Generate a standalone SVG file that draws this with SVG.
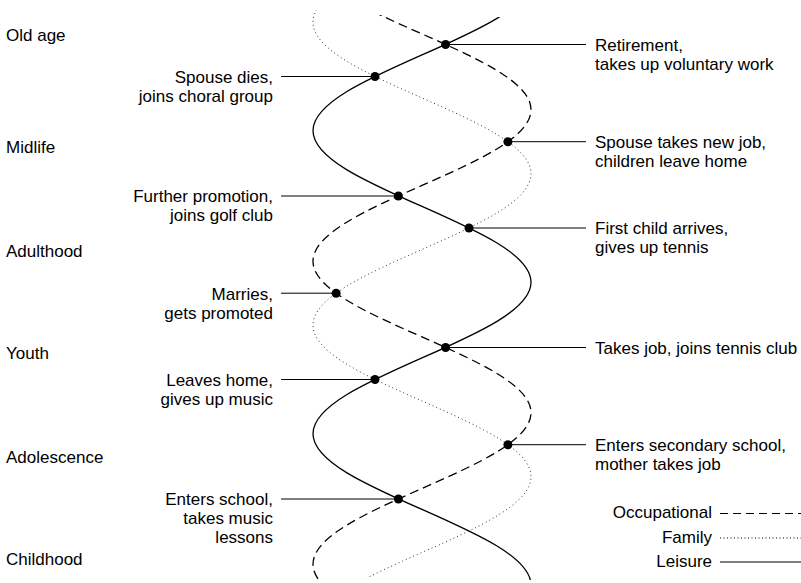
<svg xmlns="http://www.w3.org/2000/svg" width="801" height="583" viewBox="0 0 801 583">
<style>
text{font-family:"Liberation Sans",Arial,sans-serif;font-size:17px;fill:#000}
.end{text-anchor:end}
.curve{fill:none;stroke:#000;stroke-width:1.3}
.occ{stroke-dasharray:9 5}
.fam{stroke-dasharray:1 3;stroke-width:1;stroke:#333}
.lead{stroke:#000;stroke-width:1;fill:none}
.dot{fill:#000}
</style>
<defs>
<clipPath id="cs"><rect x="0" y="17" width="801" height="563"/></clipPath>
<clipPath id="cd"><rect x="0" y="15" width="801" height="565"/></clipPath>
<clipPath id="cf"><rect x="0" y="10" width="801" height="567"/></clipPath>
</defs>
<rect width="801" height="583" fill="#fff"/>
<g id="ages">
<text x="6" y="41">Old age</text>
<text x="6" y="153">Midlife</text>
<text x="6" y="257">Adulthood</text>
<text x="6" y="359">Youth</text>
<text x="6" y="463">Adolescence</text>
<text x="6" y="565">Childhood</text>
</g>
<g id="connectors">
<path id="leisure" class="curve" clip-path="url(#cs)" d="M531 -20.8 C531 6.62 477.84 30.25 422 54.95 C366.16 79.65 313 103.28 313 130.7 C313 158.12 366.16 181.75 422 206.45 C477.84 231.15 531 254.78 531 282.2 C531 309.62 477.84 333.25 422 357.95 C366.16 382.65 313 406.28 313 433.7 C313 461.12 366.16 484.75 422 509.45 C477.84 534.15 531 557.78 531 585.2"/>
<path id="occupational" class="curve occ" clip-path="url(#cd)" d="M313 -41.8 C313 -14.38 366.16 9.25 422 33.95 C477.84 58.65 531 82.28 531 109.7 C531 137.12 477.84 160.75 422 185.45 C366.16 210.15 313 233.78 313 261.2 C313 288.62 366.16 312.25 422 336.95 C477.84 361.65 531 385.28 531 412.7 C531 440.12 477.84 463.75 422 488.45 C366.16 513.15 313 536.78 313 564.2 C313 591.62 366.16 615.25 422 639.95"/>
<path id="family" class="curve fam" clip-path="url(#cf)" d="M422 -53.55 C366.16 -28.85 313 -5.22 313 22.2 C313 49.62 366.16 73.25 422 97.95 C477.84 122.65 531 146.28 531 173.7 C531 201.12 477.84 224.75 422 249.45 C366.16 274.15 313 297.78 313 325.2 C313 352.62 366.16 376.25 422 400.95 C477.84 425.65 531 449.28 531 476.7 C531 504.12 477.84 527.75 422 552.45 C366.16 577.15 313 600.78 313 628.2"/>
<path class="lead" d="M445.6 44.5H586 M507.9 141.7H586 M469 228H586 M445.6 347.5H586 M507.9 444.7H586 M281 76.5H375 M281 196H398.4 M281 293.2H336.1 M281 379.5H375 M281 499H398.4"/>
</g>
<g id="ev-retirement"><circle class="dot" cx="445.6" cy="44.45" r="4.5"/><text x="595" y="51">Retirement,</text><text x="595" y="70">takes up voluntary work</text></g>
<g id="ev-spouse-dies"><circle class="dot" cx="375" cy="76.45" r="4.5"/><text class="end" x="273" y="82.5">Spouse dies,</text><text class="end" x="273" y="101.5">joins choral group</text></g>
<g id="ev-spouse-job"><circle class="dot" cx="507.9" cy="141.7" r="4.5"/><text x="595" y="148.2">Spouse takes new job,</text><text x="595" y="167.2">children leave home</text></g>
<g id="ev-promotion"><circle class="dot" cx="398.4" cy="195.95" r="4.5"/><text class="end" x="273" y="202">Further promotion,</text><text class="end" x="273" y="221">joins golf club</text></g>
<g id="ev-first-child"><circle class="dot" cx="469" cy="227.95" r="4.5"/><text x="595" y="234">First child arrives,</text><text x="595" y="253">gives up tennis</text></g>
<g id="ev-marries"><circle class="dot" cx="336.1" cy="293.2" r="4.5"/><text class="end" x="273" y="299.5">Marries,</text><text class="end" x="273" y="318.5">gets promoted</text></g>
<g id="ev-takes-job"><circle class="dot" cx="445.6" cy="347.45" r="4.5"/><text x="595" y="353.5">Takes job, joins tennis club</text></g>
<g id="ev-leaves-home"><circle class="dot" cx="375" cy="379.45" r="4.5"/><text class="end" x="273" y="385.5">Leaves home,</text><text class="end" x="273" y="404.5">gives up music</text></g>
<g id="ev-secondary"><circle class="dot" cx="507.9" cy="444.7" r="4.5"/><text x="595" y="451">Enters secondary school,</text><text x="595" y="470">mother takes job</text></g>
<g id="ev-school"><circle class="dot" cx="398.4" cy="498.95" r="4.5"/><text class="end" x="273" y="505">Enters school,</text><text class="end" x="273" y="524">takes music</text><text class="end" x="273" y="543">lessons</text></g>
<g id="legend">
<text class="end" x="712" y="518.3">Occupational</text>
<path class="lead" d="M720 513.5H801" stroke-dasharray="8 5"/>
<text class="end" x="712" y="543.3">Family</text>
<path class="lead" d="M720 538H801" stroke-dasharray="1 2.5" stroke="#666"/>
<text class="end" x="712" y="567.3">Leisure</text>
<path class="lead" d="M720 562H801"/>
</g>
</svg>
